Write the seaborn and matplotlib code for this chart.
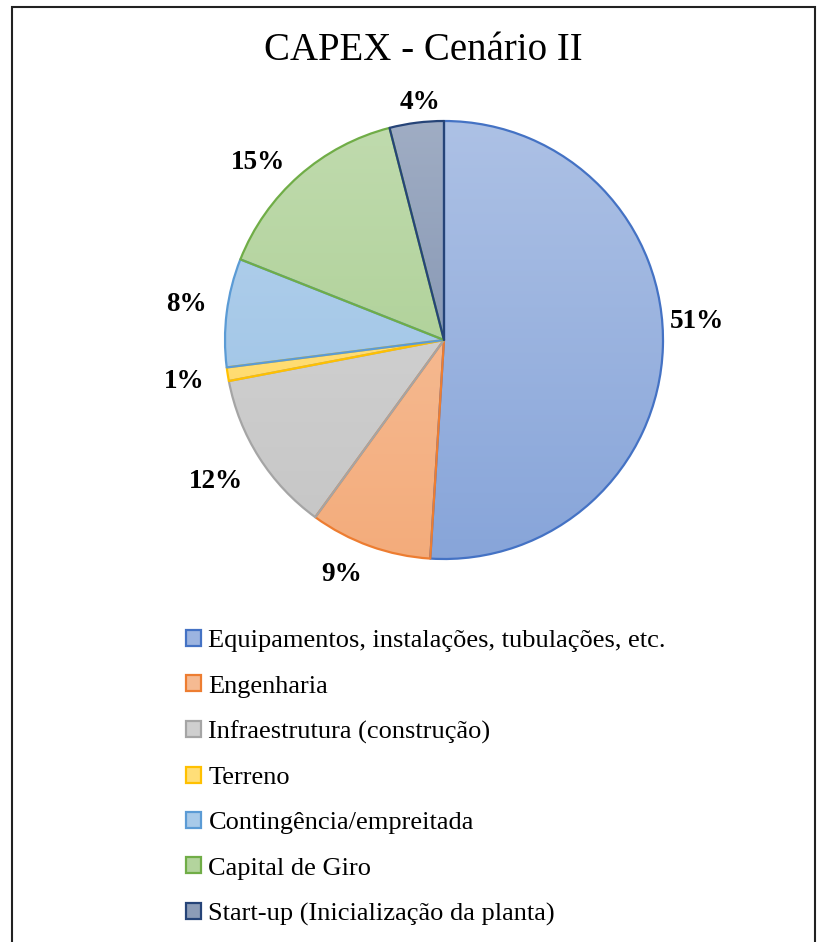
import numpy as np
import matplotlib
matplotlib.use("Agg")
import matplotlib.pyplot as plt
from matplotlib.patches import Patch, Rectangle
from matplotlib.colors import to_rgb
import seaborn as sns

# CAPEX breakdown, scenario II (percent of total)
categories = [
    "Equipamentos, instalações, tubulações, etc.",
    "Engenharia",
    "Infraestrutura (construção)",
    "Terreno",
    "Contingência/empreitada",
    "Capital de Giro",
    "Start-up (Inicialização da planta)",
]
shares = [51, 9, 12, 1, 8, 15, 4]
edge_colors = ["#4472C4", "#ED7D31", "#A5A5A5", "#FFC000", "#5B9BD5", "#70AD47", "#264478"]
title = "CAPEX - Cenário II"

# best-fit label placement: radial distance (in radii) and angular nudge (deg)
label_radius = [1.16, 1.16, 1.22, 1.20, 1.19, 1.18, 1.10]
label_nudge = [6.4, -4.0, -0.8, -0.4, -1.0, 4.6, -1.5]

sns.set_theme(style="white")
plt.rcParams["font.family"] = ["Liberation Serif", "DejaVu Serif"]
plt.rcParams["text.color"] = "black"

W, H = 822, 942
fig = plt.figure(figsize=(W / 100, H / 100), dpi=100)
ax = fig.add_axes([0, 0, 1, 1])

cx, cy, R = 444, H - 340, 219


def tint(c, f):
    r = np.array(to_rgb(c))
    return r + (1 - r) * f


wedges, _ = ax.pie(
    shares,
    center=(cx, cy),
    radius=R,
    startangle=90,
    counterclock=False,
    colors=[tint(c, 0.45) for c in edge_colors],
    wedgeprops=dict(linewidth=1.6, joinstyle="round"),
    frame=True,
)
ax.set_xlim(0, W)
ax.set_ylim(0, H)
ax.set_aspect("equal")
ax.axis("off")

# vertical gradient fill (lighter at top) clipped to each wedge
ys = np.linspace(0, 1, 256)[:, None]
for w, ec in zip(wedges, edge_colors):
    w.set_edgecolor(ec)
    top, bot = tint(ec, 0.56), tint(ec, 0.36)
    grad = top[None, None, :] * (1 - ys[..., None]) + bot[None, None, :] * ys[..., None]
    grad = np.repeat(grad, 2, axis=1)
    im = ax.imshow(grad, extent=(cx - R, cx + R, cy - R, cy + R), origin="upper",
                   aspect="auto", zorder=w.get_zorder() - 0.1, interpolation="bilinear")
    im.set_clip_path(w)
    w.set_facecolor("none")
ax.set_xlim(0, W)
ax.set_ylim(0, H)

# percentage labels outside each wedge
for w, v, rr, nd in zip(wedges, shares, label_radius, label_nudge):
    ang = np.deg2rad((w.theta1 + w.theta2) / 2 + nd)
    ax.text(cx + rr * R * np.cos(ang), cy + rr * R * np.sin(ang) - 2, f"{v}%",
            ha="center", va="center", fontsize=19.5, fontweight="bold")

ax.text(423, H - 51, title, ha="center", va="center", fontsize=28)

handles = [Patch(facecolor=tint(c, 0.47), edgecolor=c, linewidth=1.6) for c in edge_colors]
fig.legend(handles, categories, loc="upper left", bbox_to_anchor=(186 / W, 1 - 630 / H),
           frameon=False, fontsize=19, handlelength=0.55, handleheight=0.55,
           handletextpad=0.3, labelspacing=0.87, borderaxespad=0, borderpad=0)

# outer chart border
fig.add_artist(Rectangle((12 / W, -0.05), (815 - 12) / W, 1.05 - 7 / H,
                         transform=fig.transFigure, fill=False,
                         edgecolor="#222222", linewidth=1.5))

fig.savefig("out.png", dpi=100)
